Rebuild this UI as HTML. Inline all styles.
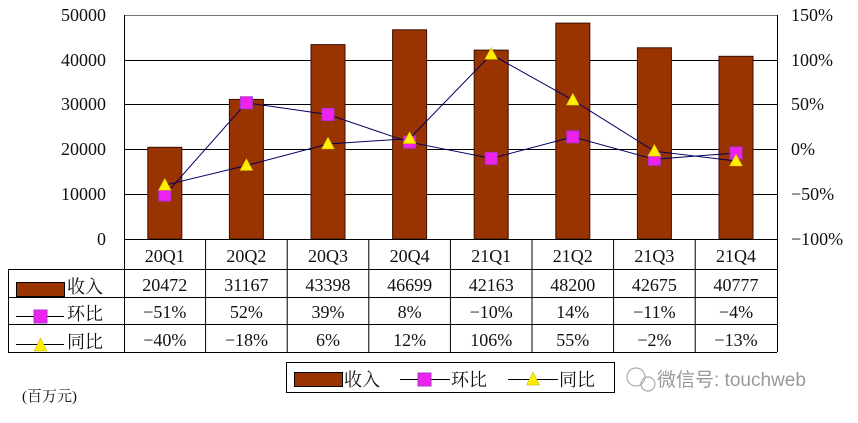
<!DOCTYPE html>
<html><head><meta charset="utf-8"><style>
body{margin:0;background:#fff}
svg text{font-family:"Liberation Serif","Noto Serif CJK SC",serif;fill:#111}
</style></head><body>
<svg width="858" height="418" viewBox="0 0 858 418" xmlns="http://www.w3.org/2000/svg">
<rect width="858" height="418" fill="#fff"/>
<!-- grid -->
<g stroke="#000" stroke-width="1">
<line x1="124" y1="15.5" x2="777" y2="15.5" stroke="#777"/>
<line x1="124" y1="60.5" x2="777" y2="60.5"/>
<line x1="124" y1="104.5" x2="777" y2="104.5"/>
<line x1="124" y1="149.5" x2="777" y2="149.5"/>
<line x1="124" y1="194.5" x2="777" y2="194.5"/>
<line x1="124.5" y1="15" x2="124.5" y2="352"/>
<line x1="777.5" y1="15" x2="777.5" y2="352"/>
</g>
<!-- bars -->
<g fill="#993300" stroke="#3a1000" stroke-width="1">
<rect x="147.8" y="147.3" width="34" height="91.7"/>
<rect x="229.4" y="99.4" width="34" height="139.6"/>
<rect x="311" y="44.6" width="34" height="194.4"/>
<rect x="392.6" y="29.8" width="34" height="209.2"/>
<rect x="474.2" y="50.1" width="34" height="188.9"/>
<rect x="555.8" y="23.1" width="34" height="215.9"/>
<rect x="637.4" y="47.8" width="34" height="191.2"/>
<rect x="719" y="56.3" width="34" height="182.7"/>
</g>
<!-- lines -->
<polyline fill="none" stroke="#000060" stroke-width="1" points="164.8,195.1 246.4,102.8 328,114.5 409.6,142.2 491.2,158.4 572.8,136.9 654.4,159.3 736,153"/>
<polyline fill="none" stroke="#000060" stroke-width="1" points="164.8,185.2 246.4,165.5 328,144 409.6,138.6 491.2,54.4 572.8,100.1 654.4,151.2 736,161"/>
<g fill="#ee22ee" stroke="#aa33cc" stroke-width="1">
<rect x="158.8" y="189.1" width="12" height="12"/>
<rect x="240.4" y="96.8" width="12" height="12"/>
<rect x="322" y="108.5" width="12" height="12"/>
<rect x="403.6" y="136.2" width="12" height="12"/>
<rect x="485.2" y="152.4" width="12" height="12"/>
<rect x="566.8" y="130.9" width="12" height="12"/>
<rect x="648.4" y="153.3" width="12" height="12"/>
<rect x="730" y="147" width="12" height="12"/>
</g>
<g fill="#ffee00" stroke="#bbaa00" stroke-width="0.5">
<polygon points="164.8,178.2 171.3,190.2 158.3,190.2"/>
<polygon points="246.4,158.5 252.9,170.5 239.9,170.5"/>
<polygon points="328,137 334.5,149 321.5,149"/>
<polygon points="409.6,131.6 416.1,143.6 403.1,143.6"/>
<polygon points="491.2,47.4 497.7,59.4 484.7,59.4"/>
<polygon points="572.8,93.1 579.3,105.1 566.3,105.1"/>
<polygon points="654.4,144.2 660.9,156.2 647.9,156.2"/>
<polygon points="736,154 742.5,166 729.5,166"/>
</g>
<!-- left axis labels -->
<g font-size="18" text-anchor="end">
<text x="106" y="21">50000</text>
<text x="106" y="66">40000</text>
<text x="106" y="110">30000</text>
<text x="106" y="155">20000</text>
<text x="106" y="200">10000</text>
<text x="106" y="245">0</text>
</g>
<g font-size="18">
<text x="791" y="21">150%</text>
<text x="791" y="66">100%</text>
<text x="791" y="110">50%</text>
<text x="791" y="155">0%</text>
<text x="791" y="200">−50%</text>
<text x="791" y="245">−100%</text>
</g>
<!-- table -->
<g stroke="#000" stroke-width="1">
<line x1="124" y1="239.5" x2="777" y2="239.5"/>
<line x1="8" y1="269.5" x2="777" y2="269.5"/>
<line x1="8" y1="297.5" x2="777" y2="297.5"/>
<line x1="8" y1="324.5" x2="777" y2="324.5"/>
<line x1="8" y1="352.5" x2="777" y2="352.5"/>
<line x1="8.5" y1="269" x2="8.5" y2="352"/>
<line x1="205.6" y1="239" x2="205.6" y2="352"/>
<line x1="287.2" y1="239" x2="287.2" y2="352"/>
<line x1="368.8" y1="239" x2="368.8" y2="352"/>
<line x1="450.4" y1="239" x2="450.4" y2="352"/>
<line x1="532" y1="239" x2="532" y2="352"/>
<line x1="613.6" y1="239" x2="613.6" y2="352"/>
<line x1="695.2" y1="239" x2="695.2" y2="352"/>
</g>
<g font-size="18" text-anchor="middle">
<text x="164.8" y="262">20Q1</text><text x="246.4" y="262">20Q2</text><text x="328" y="262">20Q3</text><text x="409.6" y="262">20Q4</text><text x="491.2" y="262">21Q1</text><text x="572.8" y="262">21Q2</text><text x="654.4" y="262">21Q3</text><text x="736" y="262">21Q4</text>
<text x="164.8" y="291">20472</text><text x="246.4" y="291">31167</text><text x="328" y="291">43398</text><text x="409.6" y="291">46699</text><text x="491.2" y="291">42163</text><text x="572.8" y="291">48200</text><text x="654.4" y="291">42675</text><text x="736" y="291">40777</text>
<text x="164.8" y="318">−51%</text><text x="246.4" y="318">52%</text><text x="328" y="318">39%</text><text x="409.6" y="318">8%</text><text x="491.2" y="318">−10%</text><text x="572.8" y="318">14%</text><text x="654.4" y="318">−11%</text><text x="736" y="318">−4%</text>
<text x="164.8" y="346">−40%</text><text x="246.4" y="346">−18%</text><text x="328" y="346">6%</text><text x="409.6" y="346">12%</text><text x="491.2" y="346">106%</text><text x="572.8" y="346">55%</text><text x="654.4" y="346">−2%</text><text x="736" y="346">−13%</text>
</g>
<!-- row labels -->
<rect x="16.5" y="282.5" width="48" height="14" fill="#993300" stroke="#000"/>
<line x1="16" y1="316.5" x2="64" y2="316.5" stroke="#000"/>
<rect x="34" y="310" width="13" height="13" fill="#ee22ee" stroke="#aa33cc"/>
<line x1="16" y1="344.5" x2="64" y2="344.5" stroke="#000"/>
<polygon points="40.5,338 47,351 34,351" fill="#ffee00" stroke="#bbaa00" stroke-width="0.5"/>
<g font-size="18"><text x="67" y="293">收入</text><text x="67" y="320">环比</text><text x="67" y="348">同比</text></g>
<!-- legend -->
<rect x="286.5" y="362.5" width="328" height="30" fill="#fff" stroke="#000"/>
<rect x="294.5" y="372.5" width="48" height="14" fill="#993300" stroke="#000"/>
<text x="344" y="386" font-size="18">收入</text>
<line x1="400" y1="379.5" x2="450" y2="379.5" stroke="#000"/>
<rect x="418" y="373" width="13" height="13" fill="#ee22ee" stroke="#aa33cc"/>
<text x="451" y="386" font-size="18">环比</text>
<line x1="508" y1="379.5" x2="558" y2="379.5" stroke="#000"/>
<polygon points="533,372 539.5,385 526.5,385" fill="#ffee00" stroke="#bbaa00" stroke-width="0.5"/>
<text x="559" y="386" font-size="18">同比</text>
<text x="22" y="401" font-size="15">(百万元)</text>
<!-- watermark -->
<g fill="none" stroke="#aaa" stroke-width="1.2"><circle cx="636" cy="377" r="9"/><circle cx="648" cy="384" r="7"/></g>
<text x="657" y="386" font-size="19" fill="#999" style="fill:#999;font-family:'Liberation Sans','Noto Sans CJK SC',sans-serif">微信号: touchweb</text>
</svg>
</body></html>
